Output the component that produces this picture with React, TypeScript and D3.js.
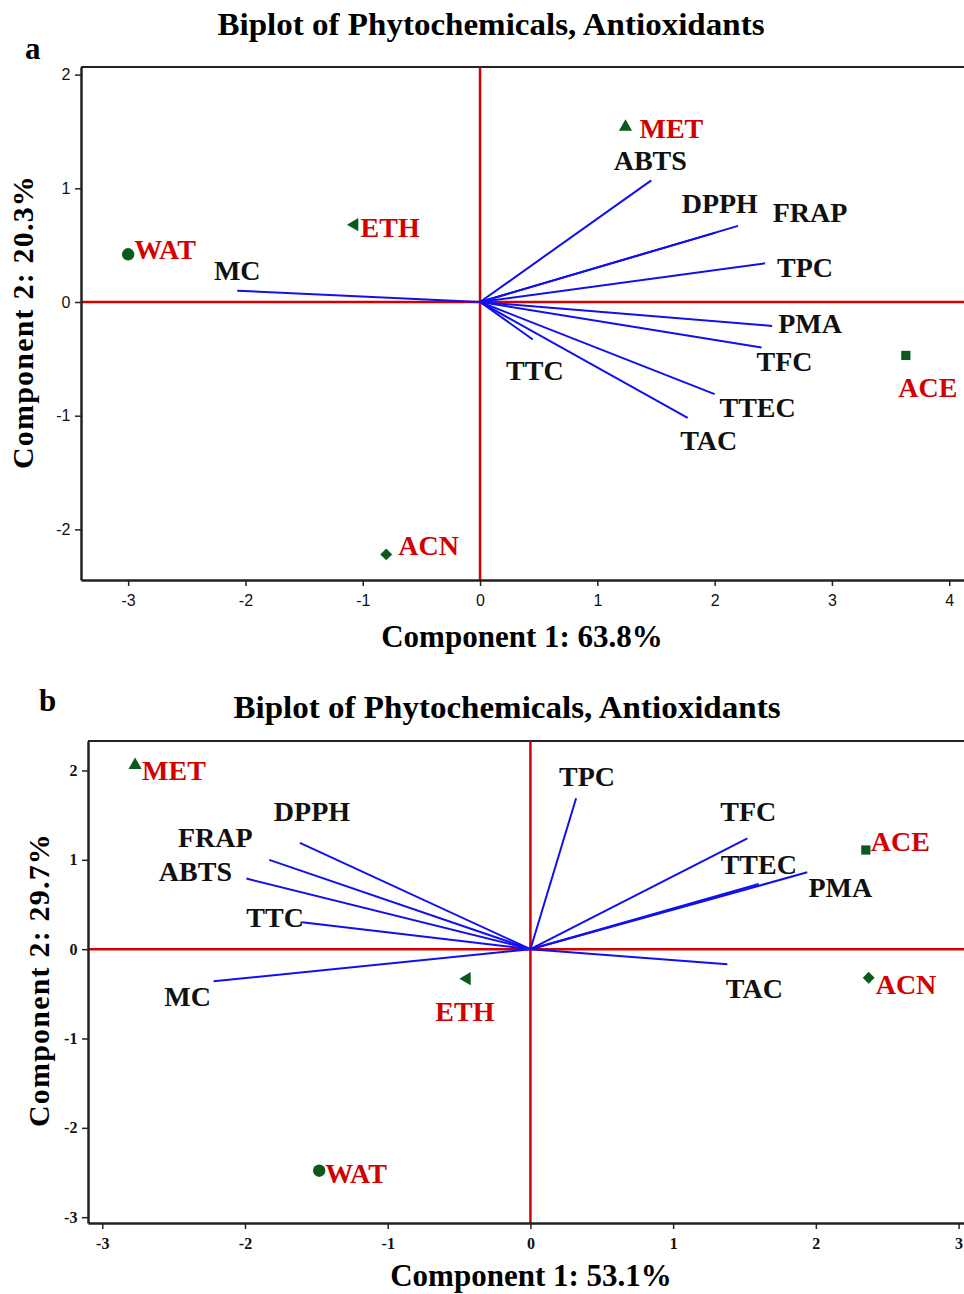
import { useRef, useEffect } from 'react';
import * as d3 from 'd3';

// Panel a: loadings (vectors) and scores, in component units
const VAR_NAMES_A = ['ABTS', 'DPPH', 'FRAP', 'TPC', 'PMA', 'TFC', 'TTEC', 'TAC', 'TTC', 'MC'];
const VAR_PC1_A = [1.46, 2.01, 2.2, 2.43, 2.49, 2.4, 2.0, 1.77, 0.45, -2.07];
const VAR_PC2_A = [1.07, 0.61, 0.67, 0.34, -0.21, -0.4, -0.81, -1.02, -0.33, 0.1];

const SAMPLE_NAMES_A = ['WAT', 'ETH', 'MET', 'ACE', 'ACN'];
const SAMPLE_PC1_A = [-3.0, -1.07, 1.24, 3.63, -0.8];
const SAMPLE_PC2_A = [0.42, 0.68, 1.54, -0.47, -2.22];

// Panel b
const VAR_NAMES_B = ['DPPH', 'FRAP', 'ABTS', 'TTC', 'MC', 'TPC', 'TFC', 'TTEC', 'PMA', 'TAC'];
const VAR_PC1_B = [-1.615, -1.83, -1.99, -1.6, -2.22, 0.32, 1.52, 1.6, 1.94, 1.38];
const VAR_PC2_B = [1.19, 1.0, 0.79, 0.3, -0.36, 1.69, 1.24, 0.73, 0.86, -0.17];

const SAMPLE_NAMES_B = ['MET', 'ETH', 'WAT', 'ACE', 'ACN'];
const SAMPLE_PC1_B = [-2.77, -0.445, -1.48, 2.35, 2.37];
const SAMPLE_PC2_B = [2.06, -0.33, -2.48, 1.11, -0.32];

const SAMPLE_SHAPES: Record<string, string> = {
  WAT: 'circle',
  ETH: 'left',
  MET: 'up',
  ACE: 'square',
  ACN: 'diamond',
};

const X_TICKS_A = [-3, -2, -1, 0, 1, 2, 3, 4];
const Y_TICKS_A = [-2, -1, 0, 1, 2];
const X_TICKS_B = [-3, -2, -1, 0, 1, 2, 3];
const Y_TICKS_B = [-3, -2, -1, 0, 1, 2];

// label offsets in pixels from the mark (layout only)
const VAR_LABEL_A: Record<string, [number, number]> = {
  ABTS: [-1, -20], DPPH: [4, -29], FRAP: [72, -13], TPC: [40, 4], PMA: [38, -2],
  TFC: [23, 14], TTEC: [43, 13], TAC: [21, 23], TTC: [2, 31], MC: [0, -20],
};
const SAMPLE_LABEL_A: Record<string, [number, number, string]> = {
  WAT: [6, -5, 'start'], ETH: [6, 3, 'start'], MET: [14, 2, 'start'],
  ACE: [22, 32, 'middle'], ACN: [12, -9, 'start'],
};
const VAR_LABEL_B: Record<string, [number, number]> = {
  DPPH: [12, -31], FRAP: [-54, -22], ABTS: [-51, -7], TTC: [-27, -5], MC: [-26, 15],
  TPC: [11, -22], TFC: [1, -27], TTEC: [0, -19], PMA: [33, 15], TAC: [27, 24],
};
const SAMPLE_LABEL_B: Record<string, [number, number, string]> = {
  MET: [7, 5, 'start'], ETH: [-2, 33, 'middle'], WAT: [6, 3, 'start'],
  ACE: [5, -8, 'start'], ACN: [7, 7, 'start'],
};

const SERIF = '"Liberation Serif", "Times New Roman", serif';
const SANS = '"Liberation Sans", Arial, sans-serif';
const RED = '#d40000';
const BLUE = '#1010ee';
const GREEN = '#0b5a1c';

function drawBiplot(svg: any, cfg: any) {
  const { left, top, right, bottom, xDomain, yDomain } = cfg;
  const x = d3.scaleLinear().domain(xDomain).range([left, right]);
  const y = d3.scaleLinear().domain(yDomain).range([bottom, top]);
  const g = svg.append('g');

  // title & panel letter
  g.append('text')
    .attr('x', cfg.titleX).attr('y', cfg.titleY)
    .attr('text-anchor', 'middle')
    .attr('font-family', SERIF).attr('font-weight', 'bold').attr('font-size', 31)
    .attr('textLength', 547).attr('lengthAdjust', 'spacingAndGlyphs')
    .text('Biplot of Phytochemicals, Antioxidants');
  g.append('text')
    .attr('x', cfg.letterX).attr('y', cfg.letterY)
    .attr('font-family', SERIF).attr('font-weight', 'bold').attr('font-size', 31)
    .text(cfg.letter);

  // frame (top)
  g.append('line').attr('x1', left).attr('x2', right).attr('y1', top).attr('y2', top)
    .attr('stroke', '#222').attr('stroke-width', 2);

  // reference lines at zero
  g.append('line').attr('x1', left).attr('x2', right).attr('y1', y(0)).attr('y2', y(0))
    .attr('stroke', RED).attr('stroke-width', 2.5);
  g.append('line').attr('x1', x(0)).attr('x2', x(0)).attr('y1', top).attr('y2', bottom)
    .attr('stroke', RED).attr('stroke-width', 2.5);

  // axes
  const fmt = (d: any) => String(d);
  const xAxis = d3.axisBottom(x).tickValues(cfg.xTicks).tickSize(6).tickSizeOuter(0).tickFormat(fmt);
  const xg = g.append('g').attr('transform', `translate(0,${bottom})`).call(xAxis);
  const yAxis = d3.axisLeft(y).tickValues(cfg.yTicks).tickSize(6).tickSizeOuter(0).tickFormat(fmt);
  const yg = g.append('g').attr('transform', `translate(${left},0)`).call(yAxis);
  [xg, yg].forEach((ax) => {
    ax.select('.domain').attr('stroke', '#222').attr('stroke-width', 2.5);
    ax.selectAll('.tick line').attr('stroke', '#222').attr('stroke-width', 1.5);
    ax.selectAll('.tick text')
      .attr('fill', '#111')
      .attr('font-family', cfg.tickFont)
      .attr('font-weight', cfg.tickWeight)
      .attr('font-size', cfg.tickSize);
  });
  xg.selectAll('.tick text').attr('dy', '1.05em');
  yg.selectAll('.tick text').attr('dx', '-0.1em');

  // axis titles
  g.append('text')
    .attr('x', cfg.xTitleX).attr('y', cfg.xTitleY)
    .attr('text-anchor', 'middle')
    .attr('font-family', SERIF).attr('font-weight', 'bold').attr('font-size', 31)
    .text(cfg.xTitle);
  g.append('text')
    .attr('transform', `translate(${cfg.yTitleX},${cfg.yTitleY}) rotate(-90)`)
    .attr('text-anchor', 'middle').attr('dominant-baseline', 'central')
    .attr('font-family', SERIF).attr('font-weight', 'bold').attr('font-size', 30)
    .attr('letter-spacing', 1.2)
    .text(cfg.yTitle);

  // loading vectors
  cfg.varNames.forEach((name: string, i: number) => {
    const ex = x(cfg.varPc1[i]);
    const ey = y(cfg.varPc2[i]);
    g.append('line')
      .attr('x1', x(0)).attr('y1', y(0)).attr('x2', ex).attr('y2', ey)
      .attr('stroke', BLUE).attr('stroke-width', 2);
    const [dx, dy] = cfg.varLabel[name];
    g.append('text')
      .attr('x', ex + dx).attr('y', ey + dy)
      .attr('text-anchor', 'middle').attr('dominant-baseline', 'central')
      .attr('font-family', SERIF).attr('font-weight', 'bold').attr('font-size', 28)
      .attr('fill', '#111')
      .text(name);
  });

  // sample scores
  const symbolFor: Record<string, any> = {
    circle: d3.symbol(d3.symbolCircle, 120),
    up: d3.symbol(d3.symbolTriangle, 75),
    left: d3.symbol(d3.symbolTriangle, 75),
    square: d3.symbol(d3.symbolSquare, 85),
    diamond: d3.symbol(d3.symbolSquare, 70),
  };
  const rotFor: Record<string, number> = { left: -90, diamond: 45 };
  cfg.sampleNames.forEach((name: string, i: number) => {
    const px = x(cfg.samplePc1[i]);
    const py = y(cfg.samplePc2[i]);
    const shape = SAMPLE_SHAPES[name];
    g.append('path')
      .attr('d', symbolFor[shape]())
      .attr('transform', `translate(${px},${py}) rotate(${rotFor[shape] || 0})`)
      .attr('fill', GREEN);
    const [dx, dy, anchor] = cfg.sampleLabel[name];
    g.append('text')
      .attr('x', px + dx).attr('y', py + dy)
      .attr('text-anchor', anchor).attr('dominant-baseline', 'central')
      .attr('font-family', SERIF).attr('font-weight', 'bold').attr('font-size', 28)
      .attr('fill', RED)
      .text(name);
  });
}

export default function App() {
  const svgRef = useRef<SVGSVGElement | null>(null);

  useEffect(() => {
    if (!svgRef.current) return;
    const svg = d3.select(svgRef.current);
    svg.selectAll('*').remove();

    // Panel a: 0 at (480,302), 117.3 px/unit in x, 113.7 px/unit in y
    drawBiplot(svg, {
      left: 81, top: 67, right: 966, bottom: 580,
      xDomain: [-3.402, 4.143], yDomain: [-2.445, 2.067],
      xTicks: X_TICKS_A, yTicks: Y_TICKS_A,
      tickFont: SANS, tickWeight: 'normal', tickSize: 16,
      titleX: 491, titleY: 35, letter: 'a', letterX: 25, letterY: 59,
      xTitle: 'Component 1: 63.8%', xTitleX: 522, xTitleY: 647,
      yTitle: 'Component 2: 20.3%', yTitleX: 22, yTitleY: 322,
      varNames: VAR_NAMES_A, varPc1: VAR_PC1_A, varPc2: VAR_PC2_A, varLabel: VAR_LABEL_A,
      sampleNames: SAMPLE_NAMES_A, samplePc1: SAMPLE_PC1_A, samplePc2: SAMPLE_PC2_A,
      sampleLabel: SAMPLE_LABEL_A,
    });

    // Panel b: 0 at (530.4,949.3), 142.7 px/unit in x, 89.3 px/unit in y
    drawBiplot(svg, {
      left: 88, top: 741, right: 966, bottom: 1223,
      xDomain: [-3.1, 3.052], yDomain: [-3.065, 2.33],
      xTicks: X_TICKS_B, yTicks: Y_TICKS_B,
      tickFont: SERIF, tickWeight: 'bold', tickSize: 16,
      titleX: 507, titleY: 718, letter: 'b', letterX: 39, letterY: 711,
      xTitle: 'Component 1: 53.1%', xTitleX: 531, xTitleY: 1286,
      yTitle: 'Component 2: 29.7%', yTitleX: 38, yTitleY: 980,
      varNames: VAR_NAMES_B, varPc1: VAR_PC1_B, varPc2: VAR_PC2_B, varLabel: VAR_LABEL_B,
      sampleNames: SAMPLE_NAMES_B, samplePc1: SAMPLE_PC1_B, samplePc2: SAMPLE_PC2_B,
      sampleLabel: SAMPLE_LABEL_B,
    });
  }, []);

  return (
    <div style={{ position: 'absolute', left: 0, top: 0, width: 964, height: 1294, background: '#fff' }}>
      <svg ref={svgRef} width={964} height={1294} style={{ display: 'block' }} />
    </div>
  );
}
